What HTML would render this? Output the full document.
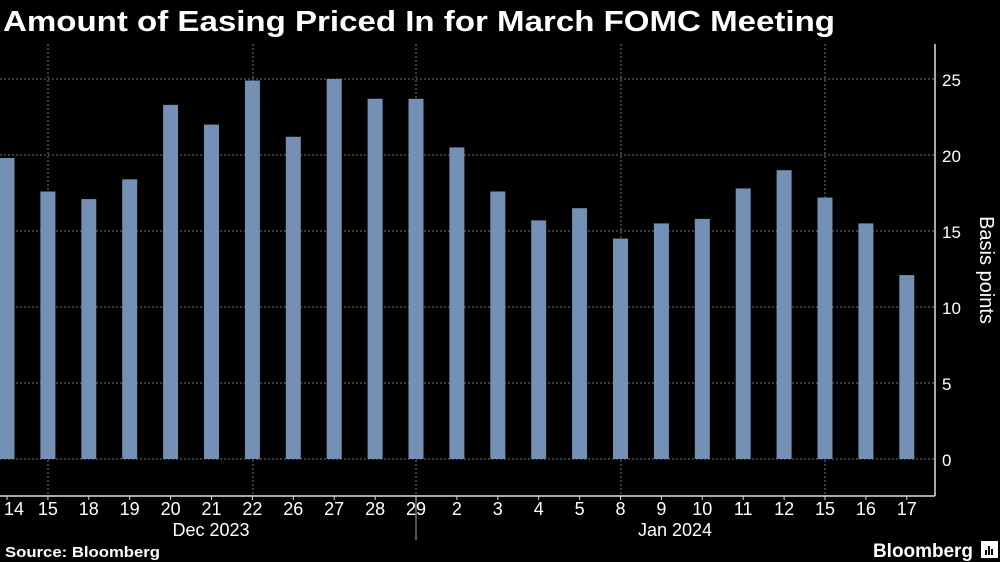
<!DOCTYPE html>
<html><head><meta charset="utf-8"><style>
body{margin:0;background:#000;width:1000px;height:562px;overflow:hidden;font-family:"Liberation Sans",sans-serif}
svg{display:block}
</style></head><body>
<svg width="1000" height="562" xmlns="http://www.w3.org/2000/svg" font-family="Liberation Sans, sans-serif">
<rect width="1000" height="562" fill="#000"/>
<text x="3" y="31" fill="#fff" font-size="29" font-weight="bold" textLength="832" lengthAdjust="spacingAndGlyphs">Amount of Easing Priced In for March FOMC Meeting</text>
<g stroke="#777" stroke-width="1" stroke-dasharray="2,2">
<line x1="0" y1="79" x2="935" y2="79"/><line x1="0" y1="155" x2="935" y2="155"/>
<line x1="0" y1="231" x2="935" y2="231"/><line x1="0" y1="307" x2="935" y2="307"/>
<line x1="0" y1="383" x2="935" y2="383"/><line x1="0" y1="459" x2="935" y2="459"/>
<line x1="48" y1="44" x2="48" y2="496"/><line x1="253" y1="44" x2="253" y2="496"/>
<line x1="416" y1="44" x2="416" y2="496"/><line x1="621" y1="44" x2="621" y2="496"/>
<line x1="825" y1="44" x2="825" y2="496"/>
</g>
<g fill="#7590b5" id="bars"></g>
<line x1="0" y1="496" x2="935" y2="496" stroke="#ddd" stroke-width="1.5"/>
<line x1="935" y1="44" x2="935" y2="496" stroke="#ddd" stroke-width="1.5"/>
<line x1="416" y1="500" x2="416" y2="540" stroke="#aaa" stroke-width="1"/>
<g fill="#fff" font-size="17">
<text x="942" y="86">25</text><text x="942" y="162">20</text><text x="942" y="238">15</text>
<text x="942" y="314">10</text><text x="942" y="390">5</text><text x="942" y="466">0</text>
</g>
<text transform="translate(980,270) rotate(90)" fill="#fff" font-size="20" text-anchor="middle">Basis points</text>
<g fill="#fff" font-size="18" text-anchor="middle" id="xl"></g>
<text x="211" y="536" fill="#fff" font-size="18" text-anchor="middle">Dec 2023</text>
<text x="675" y="536" fill="#fff" font-size="18" text-anchor="middle">Jan 2024</text>
<text x="5" y="557" fill="#fff" font-size="15" font-weight="bold" textLength="155" lengthAdjust="spacingAndGlyphs">Source: Bloomberg</text>
<text x="873" y="557" fill="#fff" font-size="19" font-weight="bold" textLength="100" lengthAdjust="spacingAndGlyphs">Bloomberg</text>
<rect x="981" y="541" width="17" height="17" fill="#fff"/>
<g fill="#000"><rect x="985" y="550" width="2" height="5"/><rect x="988" y="546" width="2" height="9"/><rect x="991" y="549" width="2" height="6"/></g>
</svg>
<script>
var labels=[14,15,18,19,20,21,22,26,27,28,29,2,3,4,5,8,9,10,11,12,15,16,17];
var vals=[19.8,17.6,17.1,18.4,23.3,22,24.9,21.2,25,23.7,23.7,20.5,17.6,15.7,16.5,14.5,15.5,15.8,17.8,19,17.2,15.5,12.1];
var ns="http://www.w3.org/2000/svg",b=document.getElementById('bars'),xl=document.getElementById('xl');
labels.forEach(function(l,i){var cx=7+i*40.9,h=vals[i]*15.2;
var r=document.createElementNS(ns,'rect');r.setAttribute('x',cx-7.5);r.setAttribute('y',459-h);r.setAttribute('width',15);r.setAttribute('height',h);b.appendChild(r);
var t=document.createElementNS(ns,'text');t.setAttribute('x',cx+(i==0?7:0));t.setAttribute('y',515);t.textContent=l;xl.appendChild(t);
var k=document.createElementNS(ns,'line');k.setAttribute('x1',cx);k.setAttribute('x2',cx);k.setAttribute('y1',496);k.setAttribute('y2',500);k.setAttribute('stroke','#ddd');xl.appendChild(k);});
</script>
</body></html>
